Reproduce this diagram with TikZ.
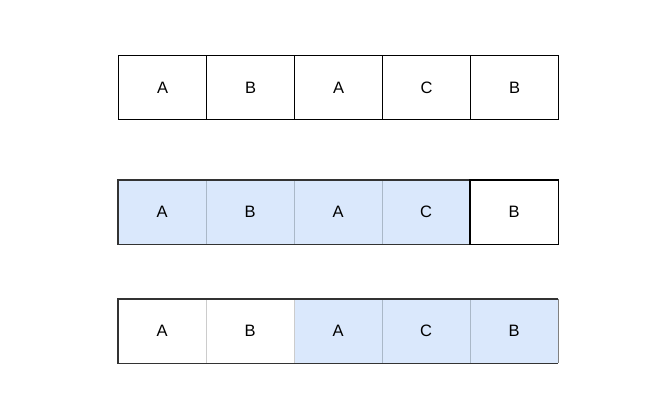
\documentclass[tikz,border=0pt]{standalone}
\usepackage{fontspec}
\setmainfont{Liberation Sans}
\definecolor{cellblue}{HTML}{DAE8FC}
\definecolor{outer}{HTML}{333333}
\definecolor{divblue}{HTML}{AAB8C8}
\definecolor{divgray}{HTML}{CCCCCC}
\begin{document}
\begin{tikzpicture}[x=1pt,y=-1pt,
  cell/.style={minimum width=88pt,minimum height=64pt,inner sep=0pt,anchor=north west,font=\fontsize{16.5}{19}\selectfont},
  blackcell/.style={cell,draw=black,line width=1.2pt},
  bluecell/.style={cell,fill=cellblue},
  whitecell/.style={cell,fill=white}]
\useasboundingbox (0,0) rectangle (650,410);
% Row 1
\foreach \t [count=\i from 0] in {A,B,A,C,B} {
  \node[blackcell] (r1c\i) at (118+88*\i,55) {\t};
}
% Row 2
\foreach \t [count=\i from 0] in {A,B,A,C} {
  \node[bluecell] (r2c\i) at (118+88*\i,180) {\t};
}
\node[whitecell] (r2c4) at (118+88*4,180) {B};
\draw[divblue,line width=0.8pt] (r2c0.north east) -- (r2c0.south east);
\draw[divblue,line width=0.8pt] (r2c1.north east) -- (r2c1.south east);
\draw[divblue,line width=0.8pt] (r2c2.north east) -- (r2c2.south east);
\draw[outer,line width=1.2pt] (r2c0.north west) rectangle (r2c3.south east);
\draw[black,line width=1.2pt] (r2c4.north west) rectangle (r2c4.south east);
% Row 3
\node[whitecell] (r3c0) at (118,299) {A};
\node[whitecell] (r3c1) at (118+88,299) {B};
\foreach \t [count=\i from 2] in {A,C,B} {
  \node[bluecell] (r3c\i) at (118+88*\i,299) {\t};
}
\draw[divgray,line width=0.8pt] (r3c0.north east) -- (r3c0.south east);
\draw[divgray,line width=0.8pt] (r3c1.north east) -- (r3c1.south east);
\draw[divblue,line width=0.8pt] (r3c2.north east) -- (r3c2.south east);
\draw[divblue,line width=0.8pt] (r3c3.north east) -- (r3c3.south east);
\draw[outer,line width=1.2pt] (r3c4.north east) -- (r3c0.north west) -- (r3c0.south west) -- (r3c4.south east);
\draw[gray,line width=1.2pt] (r3c4.north east) -- (r3c4.south east);
\end{tikzpicture}
\end{document}
